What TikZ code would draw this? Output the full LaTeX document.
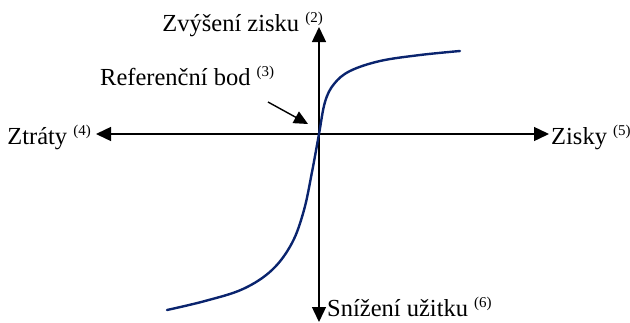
\documentclass[tikz,border=0pt]{standalone}
\usepackage{fontspec}
\setmainfont{Liberation Serif}
\newfontfamily\popisfont{Liberation Serif}
\usetikzlibrary{arrows.meta}
\definecolor{krivka}{RGB}{10,36,110}
\newcommand{\poz}[1]{\raisebox{0.75ex}{\fontsize{15}{16}\selectfont(#1)}}

\begin{document}
\begin{tikzpicture}[x=1pt,y=-1pt,>={Triangle[length=15pt,width=14pt]},
  popis/.style={inner sep=0pt,font=\popisfont\fontsize{24.5}{28}\selectfont}]
  \useasboundingbox (0,0) rectangle (630,322);
  \coordinate (O) at (319,134);
  \coordinate (L) at (96,134);
  \coordinate (P) at (549,134);
  \coordinate (H) at (319,27);
  \coordinate (D) at (319,322);
  \draw[<->,line width=1.4pt](L)--(P);
  \draw[<->,line width=1.4pt](H)--(D);
  \node[popis,anchor=base east] (zisk) at (323,31){Zvýšení zisku \poz{2}};
  \node[popis,anchor=base east] (ztraty) at (91,144){Ztráty \poz{4}};
  \node[popis,anchor=base west] (zisky) at (551,144){Zisky \poz{5}};
  \node[popis,anchor=base west] (uzitek) at (327,316){Snížení užitku \poz{6}};
  \node[popis,anchor=base west] (ref) at (100,85){Referenční bod \poz{3}};
  \coordinate (refA) at (268,102);
  \coordinate (refB) at (308,124);
  \draw[-{Triangle[length=14pt,width=13pt]},line width=1.4pt](refA)--(refB);
  % krivka hodnotove funkce
  \draw[krivka,line width=2.4pt,line cap=round] plot[smooth,tension=0.6] coordinates
    {(167,310)(205,301)(243,289)(272,270)(292,243)(304,210)(312,172)(319,134)
     (325,102)(334,84)(350,71)(380,61)(420,55)(460,51)};
\end{tikzpicture}
\end{document}
